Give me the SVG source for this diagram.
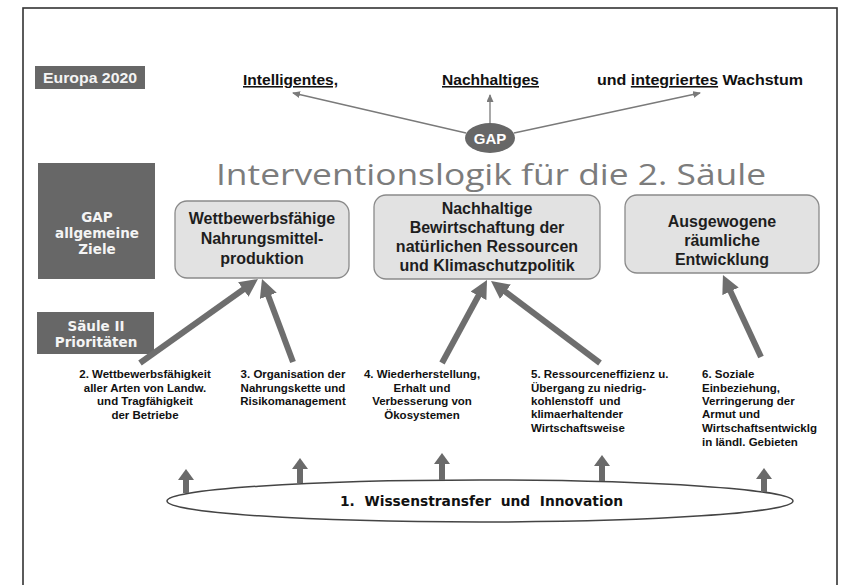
<svg xmlns="http://www.w3.org/2000/svg" width="841" height="585" viewBox="0 0 841 585">
<style>
.dark{fill:#676767}
.lbl{font-family:"DejaVu Sans",sans-serif;font-weight:bold;font-size:13.5px;fill:#f4f4f4;text-anchor:middle}
.box{fill:#e2e2e2;stroke:#8a8a8a;stroke-width:1.3}
.bt{font-family:"Liberation Sans",Arial,sans-serif;font-weight:bold;font-size:16px;fill:#1e1e1e;text-anchor:middle}
.pt{font-family:"Liberation Sans",Arial,sans-serif;font-weight:bold;font-size:11.5px;fill:#111}
.top{font-family:"Liberation Sans",Arial,sans-serif;font-weight:bold;font-size:15.5px;fill:#111}
.u{text-decoration:underline}
.big{stroke:#6e6e6e;stroke-width:6;fill:none;marker-end:url(#bh)}
.sm{stroke:#6a6a6a;stroke-width:6;fill:none;marker-end:url(#sh)}
.thin{stroke:#7a7a7a;stroke-width:1.3;fill:none;marker-end:url(#th)}
</style>
<defs>
<marker id="bh" viewBox="0 0 18 18" markerUnits="userSpaceOnUse" markerWidth="18" markerHeight="18" refX="6" refY="9" orient="auto"><path d="M0,0 L18,9 L0,18 z" fill="#6e6e6e"/></marker>
<marker id="sh" viewBox="0 0 11 16" markerUnits="userSpaceOnUse" markerWidth="11" markerHeight="16" refX="5" refY="8" orient="auto"><path d="M0,0 L11,8 L0,16 z" fill="#6a6a6a"/></marker>
<marker id="th" viewBox="0 0 8 7" markerUnits="userSpaceOnUse" markerWidth="8" markerHeight="7" refX="7" refY="3.5" orient="auto"><path d="M0,0 L8,3.5 L0,7 z" fill="#7a7a7a"/></marker>
</defs>
<rect width="841" height="585" fill="#fff"/>
<rect x="23" y="8" width="814" height="590" fill="none" stroke="#333" stroke-width="1.6"/>

<g id="europa2020">
<rect class="dark" x="35" y="66" width="110" height="23"/>
<text x="90" y="83" class="lbl" font-family="Liberation Sans" style="font-family:'Liberation Sans',Arial,sans-serif;font-size:14px" textLength="94" lengthAdjust="spacingAndGlyphs">Europa 2020</text>
</g>

<g id="goals-text">
<text x="243" y="85" class="top u" textLength="95" lengthAdjust="spacingAndGlyphs">Intelligentes,</text>
<text x="442" y="85" class="top u" textLength="97" lengthAdjust="spacingAndGlyphs">Nachhaltiges</text>
<text x="597" y="85" class="top" textLength="206" lengthAdjust="spacingAndGlyphs">und <tspan class="u">integriertes</tspan> Wachstum</text>
</g>

<g id="gap">
<ellipse cx="490" cy="138" rx="25" ry="15" class="dark"/>
<text x="490" y="144" style="font-family:'Liberation Sans',Arial,sans-serif;font-weight:bold;font-size:15px;fill:#fff;text-anchor:middle">GAP</text>
</g>

<g id="title">
<text x="216" y="185" style="font-family:'Open Sans',sans-serif;font-size:30px;fill:#7c7c7c" textLength="550" lengthAdjust="spacingAndGlyphs">Interventionslogik für die 2. Säule</text>
</g>

<g id="gap-ziele">
<rect class="dark" x="38" y="163" width="117" height="116"/>
<text class="lbl" x="97" y="222">GAP</text>
<text class="lbl" x="97" y="238">allgemeine</text>
<text class="lbl" x="97" y="254">Ziele</text>
</g>

<g id="saeule-prioritaeten">
<rect class="dark" x="37" y="312" width="117" height="42"/>
<text class="lbl" x="96" y="331">Säule II</text>
<text class="lbl" x="96" y="347">Prioritäten</text>
</g>

<g id="ziel1">
<rect class="box" x="175" y="201" width="174" height="77" rx="12"/>
<text class="bt" x="262" y="224">Wettbewerbsfähige</text>
<text class="bt" x="262" y="244">Nahrungsmittel-</text>
<text class="bt" x="262" y="264">produktion</text>
</g>

<g id="ziel2">
<rect class="box" x="374" y="195" width="226" height="84" rx="12"/>
<text class="bt" x="487" y="214">Nachhaltige</text>
<text class="bt" x="487" y="233">Bewirtschaftung der</text>
<text class="bt" x="487" y="252">natürlichen Ressourcen</text>
<text class="bt" x="487" y="271">und Klimaschutzpolitik</text>
</g>

<g id="ziel3">
<rect class="box" x="625" y="195" width="194" height="78" rx="12"/>
<text class="bt" x="722" y="227">Ausgewogene</text>
<text class="bt" x="722" y="246">räumliche</text>
<text class="bt" x="722" y="265">Entwicklung</text>
</g>

<g id="prio2">
<text class="pt" text-anchor="middle" x="145" y="378">2. Wettbewerbsfähigkeit</text>
<text class="pt" text-anchor="middle" x="145" y="392">aller Arten von Landw.</text>
<text class="pt" text-anchor="middle" x="145" y="405">und Tragfähigkeit</text>
<text class="pt" text-anchor="middle" x="145" y="419">der Betriebe</text>
</g>
<g id="prio3">
<text class="pt" text-anchor="middle" x="293" y="378">3. Organisation der</text>
<text class="pt" text-anchor="middle" x="293" y="392">Nahrungskette und</text>
<text class="pt" text-anchor="middle" x="293" y="405">Risikomanagement</text>
</g>
<g id="prio4">
<text class="pt" text-anchor="middle" x="422" y="378">4. Wiederherstellung,</text>
<text class="pt" text-anchor="middle" x="422" y="392">Erhalt und</text>
<text class="pt" text-anchor="middle" x="422" y="405">Verbesserung von</text>
<text class="pt" text-anchor="middle" x="422" y="419">Ökosystemen</text>
</g>
<g id="prio5">
<text class="pt" x="531" y="378">5. Ressourceneffizienz u.</text>
<text class="pt" x="531" y="392">Übergang zu niedrig-</text>
<text class="pt" x="531" y="405" xml:space="preserve">kohlenstoff  und</text>
<text class="pt" x="531" y="418">klimaerhaltender</text>
<text class="pt" x="531" y="432">Wirtschaftsweise</text>
</g>
<g id="prio6">
<text class="pt" x="702" y="378">6. Soziale</text>
<text class="pt" x="702" y="392">Einbeziehung,</text>
<text class="pt" x="702" y="405">Verringerung der</text>
<text class="pt" x="702" y="418">Armut und</text>
<text class="pt" x="702" y="432">Wirtschaftsentwicklg</text>
<text class="pt" x="702" y="446">in ländl. Gebieten</text>
</g>

<g id="prio1">
<ellipse cx="480" cy="501" rx="313" ry="21" fill="#fff" stroke="#444" stroke-width="1.5"/>
<text x="340" y="506" xml:space="preserve" style="font-family:'DejaVu Sans',sans-serif;font-weight:bold;font-size:14px;fill:#111" textLength="283" lengthAdjust="spacingAndGlyphs">1.  Wissenstransfer  und  Innovation</text>
</g>

<g id="connectors">
<line class="thin" x1="466" y1="133" x2="293" y2="93"/>
<line class="thin" x1="490" y1="123" x2="490" y2="95"/>
<line class="thin" x1="514" y1="133" x2="700" y2="93"/>
<line class="big" x1="140" y1="363" x2="248.2" y2="286"/>
<line class="big" x1="293" y1="362" x2="266.2" y2="290.2"/>
<line class="big" x1="442" y1="363" x2="481.3" y2="290.5"/>
<line class="big" x1="600" y1="363" x2="500.6" y2="288.2"/>
<line class="big" x1="761" y1="357" x2="728" y2="285.9"/>
<line class="sm" x1="186" y1="493" x2="186" y2="475"/>
<line class="sm" x1="300" y1="483" x2="300" y2="464"/>
<line class="sm" x1="442" y1="480" x2="442" y2="459"/>
<line class="sm" x1="602" y1="481" x2="602" y2="461"/>
<line class="sm" x1="764" y1="492" x2="764" y2="474"/>
</g>
</svg>
